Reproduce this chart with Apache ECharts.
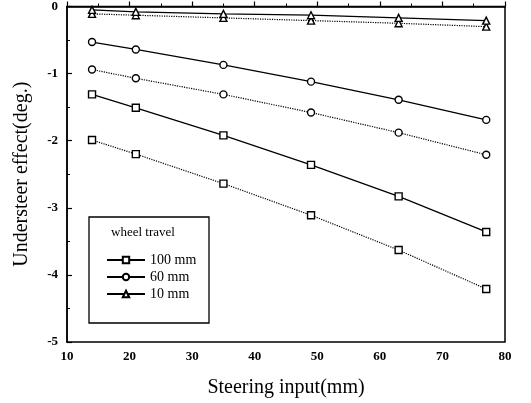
<!DOCTYPE html>
<html lang="en">

<head>
  <script src="https://cdn.jsdelivr.net/npm/echarts@6.0.0/dist/echarts.min.js"></script>
  <meta charset="UTF-8">
</head>

<body style="margin:0">
  <div id="understeerChart" style="width: 531px;height:403px;"></div>

  <script type="text/javascript">

    var steeringInput = [14, 21, 35, 49, 63, 77];
    var solid100 = [-1.31, -1.51, -1.92, -2.36, -2.83, -3.36];
    var dotted100 = [-1.99, -2.20, -2.64, -3.11, -3.63, -4.21];
    var solid60 = [-0.53, -0.64, -0.87, -1.12, -1.39, -1.69];
    var dotted60 = [-0.94, -1.07, -1.31, -1.58, -1.88, -2.21];
    var solid10 = [-0.05, -0.08, -0.11, -0.13, -0.17, -0.21];
    var dotted10 = [-0.11, -0.13, -0.17, -0.21, -0.25, -0.30];
    var legendNames = ['100 mm', '60 mm', '10 mm'];

    var font = 'Liberation Serif';

    function pairs(ys) {
      return steeringInput.map((x, i) => [x, ys[i]]);
    }

    function makeSeries(name, ys, symbol, dotted) {
      return {
        name: name,
        type: 'line',
        data: pairs(ys),
        symbol: symbol,
        symbolSize: 7,
        showAllSymbol: true,
        itemStyle: { color: '#fff', borderColor: '#000', borderWidth: 1.4 },
        lineStyle: { color: '#000', width: dotted ? 1.2 : 1.3, type: dotted ? 'dotted' : 'solid' },
        emphasis: { disabled: true },
        z: dotted ? 2 : 3
      };
    }

    function createChart() {
      const chart = echarts.init(document.getElementById('understeerChart'));

      const axisCommon = {
        axisLine: { lineStyle: { color: '#000', width: 1.5 } },
        axisTick: { inside: true, length: 5, lineStyle: { color: '#000', width: 1.2 } },
        minorTick: { show: true, splitNumber: 2, length: 3, lineStyle: { color: '#000' } },
        splitLine: { show: false },
        axisLabel: { color: '#000', fontFamily: font, fontSize: 13, fontWeight: 'bold' },
        nameTextStyle: { color: '#000', fontFamily: font, fontSize: 20 }
      };

      let option = {
        animation: false,
        grid: { left: 67, right: 26, top: 6, bottom: 61, show: true, borderColor: '#000', borderWidth: 1.5 },
        xAxis: Object.assign({}, axisCommon, {
          type: 'value', min: 10, max: 80, interval: 10,
          name: 'Steering input(mm)', nameLocation: 'middle', nameGap: 36,
          axisLabel: Object.assign({}, axisCommon.axisLabel, { margin: 8 })
        }),
        yAxis: Object.assign({}, axisCommon, {
          type: 'value', min: -5, max: 0, interval: 1,
          name: 'Understeer effect(deg.)', nameLocation: 'middle', nameGap: 35,
          axisLabel: Object.assign({}, axisCommon.axisLabel, { margin: 9 })
        }),
        legend: {
          data: legendNames,
          orient: 'vertical',
          left: 101, top: 248,
          itemWidth: 38, itemHeight: 8, itemGap: 3,
          textStyle: { color: '#000', fontFamily: font, fontSize: 14 },
          selectedMode: false
        },
        graphic: [
          { type: 'rect', shape: { x: 89, y: 217, width: 120, height: 106 },
            style: { fill: 'none', stroke: '#000', lineWidth: 1.3 }, z: 10 },
          { type: 'text', left: 111, top: 226,
            style: { text: 'wheel travel', font: '13px "Liberation Serif"', fill: '#000' }, z: 10 }
        ],
        series: [
          makeSeries('100 mm', solid100, 'rect', false),
          makeSeries('100 mm dotted', dotted100, 'rect', true),
          makeSeries('60 mm', solid60, 'circle', false),
          makeSeries('60 mm dotted', dotted60, 'circle', true),
          makeSeries('10 mm', solid10, 'triangle', false),
          makeSeries('10 mm dotted', dotted10, 'triangle', true)
        ]
      };

      chart.setOption(option);
    }
    createChart();
  </script>
</body>

</html>
